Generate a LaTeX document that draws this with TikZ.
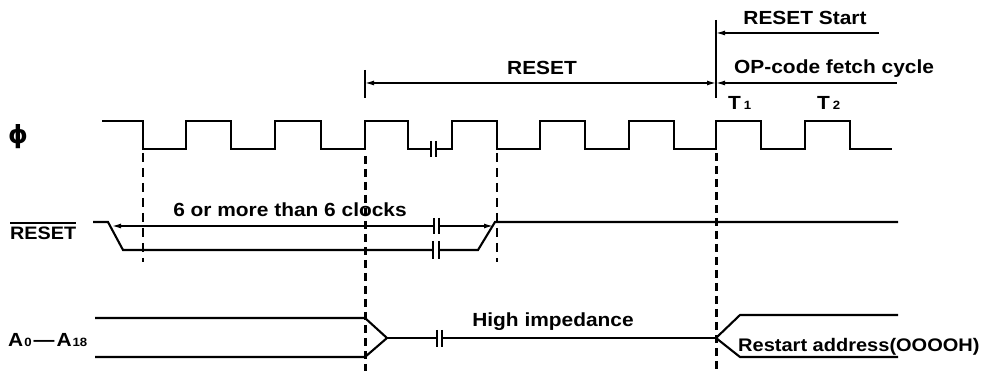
\documentclass[tikz,border=0pt]{standalone}
\usepackage{fontspec}
\setmainfont{Liberation Sans}[FakeStretch=1.1]
\newfontfamily\symfont{DejaVu Sans}
\usetikzlibrary{arrows.meta}
\begin{document}
\begin{tikzpicture}[x=1pt,y=-1pt,
  clk/.style={line width=2.4pt, line join=miter},
  sig/.style={line width=2.1pt, line join=miter},
  dimline/.style={line width=1.4pt},
  dashthin/.style={line width=1.4pt, dash pattern=on 9pt off 6pt},
  dashthick/.style={line width=3pt, dash pattern=on 8pt off 5pt},
  brk/.style={line width=2.2pt},
  lbl/.style={font=\fontsize{19}{21}\selectfont\bfseries, inner sep=0pt},
  tipl/.style={{Latex[length=9pt,width=5pt]}-},
  tipr/.style={-{Latex[length=9pt,width=5pt]}},
  tiplr/.style={{Latex[length=9pt,width=5pt]}-{Latex[length=9pt,width=5pt]}}]
\newcommand{\smalldig}[1]{{\fontsize{12}{12}\selectfont #1}}
\useasboundingbox (0,0) rectangle (983,371);

% ---------- top annotations ----------
\coordinate (vt) at (716,20);
\coordinate (vb) at (716,98);
\coordinate (rsA) at (716,33);
\coordinate (rsB) at (879,33);
\coordinate (rL) at (365,83);
\coordinate (rR) at (716,83);
\coordinate (opB) at (897,83);
\coordinate (tkT) at (365,70);
\coordinate (tkB) at (365,98);
\draw[line width=2.4pt] (vt) -- (vb);
\draw[line width=2.4pt] (tkT) -- (tkB);
\draw[dimline, tipl] (rsA) -- (rsB);
\draw[dimline, tiplr] (rL) -- (rR);
\draw[dimline, tipl] (rR) -- (opB);
\node[lbl, anchor=base] (tRS) at (805,25) {RESET Start};
\node[lbl, anchor=base] (tR) at (542,75) {RESET};
\node[lbl, anchor=base west] (tOP) at (734,74) {OP-code fetch cycle};
\node[lbl, anchor=base west] (tT1) at (728,110) {T\kern3pt\smalldig{1}};
\node[lbl, anchor=base west] (tT2) at (817,110) {T\kern3pt\smalldig{2}};

% ---------- clock ----------
\node[font=\fontsize{25}{25}\selectfont\symfont\bfseries, inner sep=0pt] (phi) at (18,137) {ϕ};
\draw[clk] (102,121) -| (143,149) -| (186,121) -| (231,149) -| (275,121)
  -| (321,149) -| (365,121) -| (408,149) -- (431,149);
\draw[clk] (436,149) -| (452,121) -| (497,149) -| (540,121) -| (585,149)
  -| (629,121) -| (674,149) -| (716,121) -| (761,149) -| (805,121)
  -| (850,149) -- (892,149);
\draw[brk] (431,141) -- (431,157) (436,141) -- (436,157);

% ---------- RESET ----------
\node[lbl, anchor=base west, font=\fontsize{18}{20}\selectfont\bfseries] (rl) at (10,240) {RESET};
\draw[line width=1.6pt] ([yshift=4pt]rl.north west) -- ([yshift=4pt]rl.north east);
\draw[sig] (93,222) -- (108,222) -- (123,250) -- (433,250);
\draw[sig] (439,250) -- (478,250) -- (495,222) -- (898,222);
\draw[brk] (433,241) -- (433,259) (439,241) -- (439,259);
\coordinate (dL) at (112,226);
\coordinate (dM1) at (434,226);
\coordinate (dM2) at (439,226);
\coordinate (dR) at (493,226);
\draw[dimline, tipl] (dL) -- (dM1);
\draw[dimline, tipr] (dM2) -- (dR);
\draw[brk] (434,218) -- (434,234) (439,218) -- (439,234);
\node[lbl, anchor=base] (tclk) at (290,217) {6 or more than 6 clocks};

% ---------- address bus ----------
\node[lbl, anchor=base west] (al) at (8,347) {A\kern1pt\smalldig{0}\kern2pt—\kern2ptA\kern1pt\smalldig{18}};
\draw[sig] (95,318) -- (365,318) -- (387,338) -- (365,357) -- (95,357);
\draw[sig] (387,338) -- (437,338);
\draw[sig] (442,338) -- (716,338);
\draw[sig] (898,315) -- (740,315) -- (716,338) -- (740,357) -- (898,357);
\draw[brk] (437,330) -- (437,347) (442,330) -- (442,347);
\node[lbl, anchor=base] (thi) at (553,327) {High impedance};
\node[lbl, anchor=base west, font=\fontsize{18.2}{20}\selectfont\bfseries] (tra) at (738,352) {Restart address(OOOOH)};

% ---------- guide lines ----------
\draw[dashthin] (143,153) -- (143,262);
\draw[dashthin] (497,153) -- (497,262);
\draw[dashthick] (365,156) -- (365,371);
\draw[dashthick] (716,153) -- (716,371);
\end{tikzpicture}
\end{document}
